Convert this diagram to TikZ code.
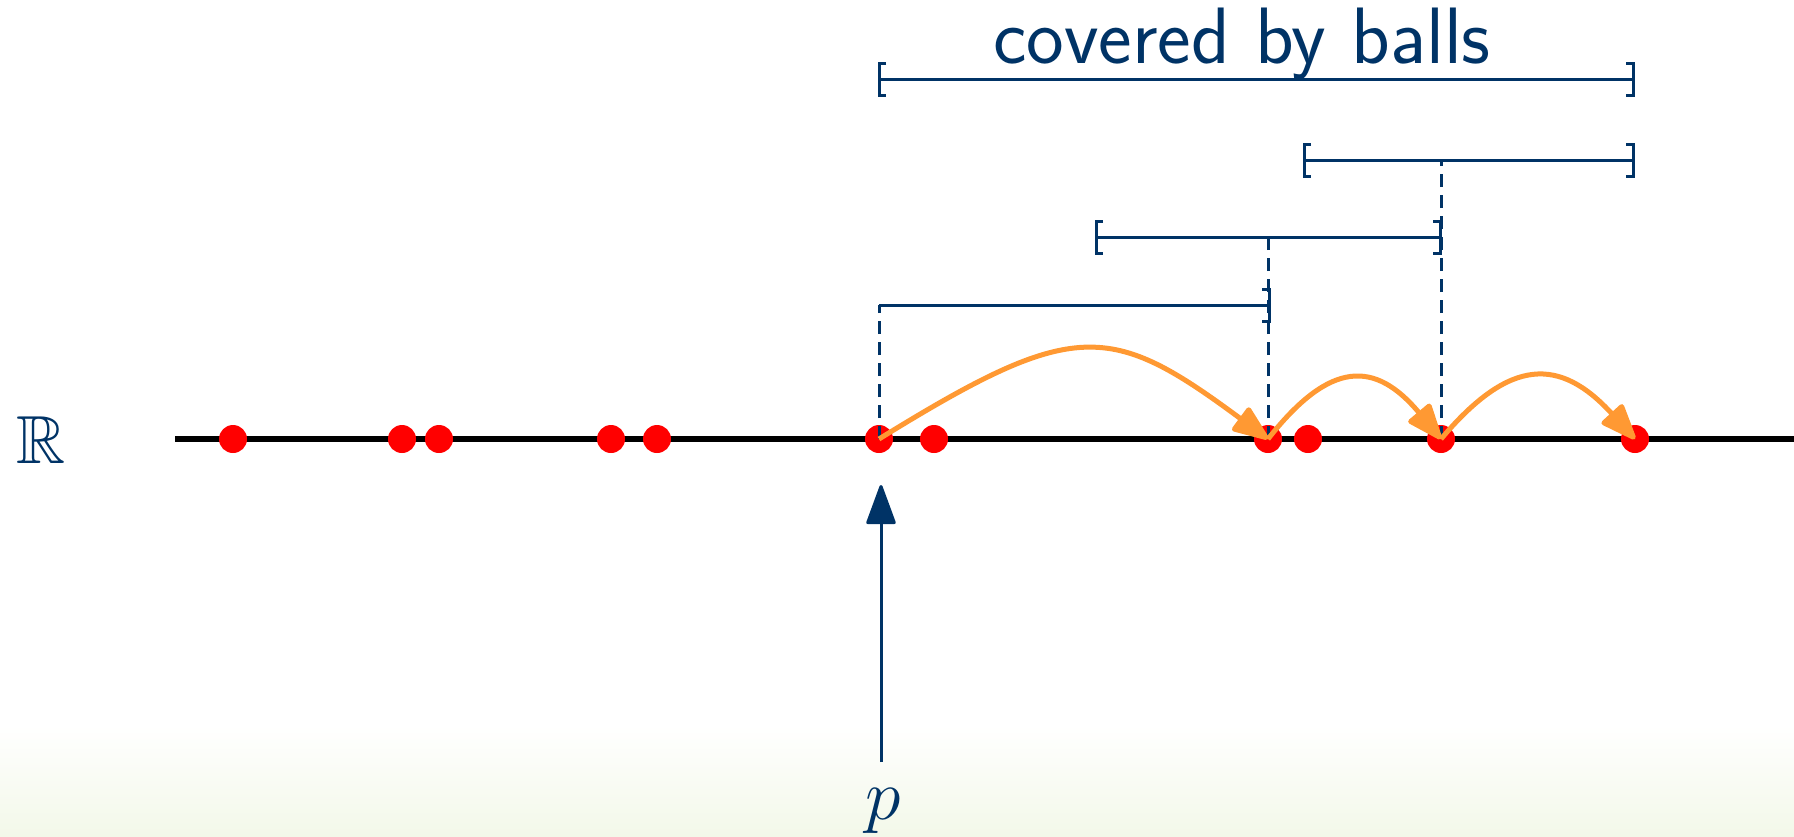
\RequirePackage{fix-cm}
\documentclass[tikz,border=0pt]{standalone}
\usepackage{amssymb}
\usetikzlibrary{arrows.meta}
\definecolor{dblue}{RGB}{0,51,102}
\definecolor{orng}{RGB}{255,153,51}
\definecolor{bgreen}{RGB}{243,248,233}
\begin{document}
\begin{tikzpicture}[x=1pt,y=-1pt,
  dot/.style={circle,fill=red,inner sep=0pt,minimum size=28pt},
  axisline/.style={line width=6pt,black},
  brk/.style={draw=dblue,line width=3pt},
  dsh/.style={draw=dblue,line width=3pt,dash pattern=on 13pt off 8pt},
  hop/.style={draw=orng,line width=5pt,-{Triangle[length=40pt,width=30pt,round]}},
  uparrow/.style={draw=dblue,line width=3pt,-{Triangle[length=42pt,width=30pt,round]}},
  lbl/.style={text=dblue,inner sep=0pt,anchor=base}
]
\useasboundingbox (0,0) rectangle (1794,836);
\shade[top color=white,bottom color=bgreen] (0,725) rectangle (1794,836);

% axis
\coordinate (axL) at (175,439);
\coordinate (axR) at (1794,439);
\draw[axisline] (axL) -- (axR);
\node[lbl,font=\fontsize{68}{80}\selectfont] (R) at (41,463) {$\mathbb{R}$};

% points
\foreach \x/\n in {233/d1,402/d2,439/d3,611/d4,657/d5,879/d6,934/d7,1268/d8,1308/d9,1441/d10,1635/d11}
  \node[dot] (\n) at (\x,439) {};

% bracket rows
\coordinate (r1a) at (879,79);   \coordinate (r1b) at (1633,79);
\coordinate (r2a) at (1304,160); \coordinate (r2b) at (1633,160);
\coordinate (r3a) at (1096,237); \coordinate (r3b) at (1440,237);
\coordinate (r4a) at (879,305);  \coordinate (r4b) at (1269,305);

% dashed verticals
\draw[dsh] (d6.center) -- (d6.center |- r4a);
\draw[dsh] (d8.center) -- (d8.center |- r3a);
\draw[dsh] (d10.center) -- (d10.center |- r2a);

% intervals
\draw[brk] (r1a) -- (r1b);
\draw[brk] (r1a) ++(7,-16) -- ++(-7,0) -- ++(0,32) -- ++(7,0);
\draw[brk] (r1b) ++(-7,-16) -- ++(7,0) -- ++(0,32) -- ++(-7,0);
\draw[brk] (r2a) -- (r2b);
\draw[brk] (r2a) ++(7,-16) -- ++(-7,0) -- ++(0,32) -- ++(7,0);
\draw[brk] (r2b) ++(-7,-16) -- ++(7,0) -- ++(0,32) -- ++(-7,0);
\draw[brk] (r3a) -- (r3b);
\draw[brk] (r3a) ++(7,-16) -- ++(-7,0) -- ++(0,32) -- ++(7,0);
\draw[brk] (r3b) ++(-7,-16) -- ++(7,0) -- ++(0,32) -- ++(-7,0);
\draw[brk] (r4a) -- (r4b);
\draw[brk] (r4b) ++(-7,-16) -- ++(7,0) -- ++(0,32) -- ++(-7,0);

\node[lbl,font=\sffamily\fontsize{80}{92}\selectfont] (cov) at (1242,63) {covered by balls};

% hops
\draw[hop] (d6.center) .. controls (1075,318) and (1110,322) .. (d8.center);
\draw[hop] (d8.center) .. controls (1330,360) and (1375,360) .. (d10.center);
\draw[hop] (d10.center) .. controls (1510,357) and (1560,357) .. (d11.center);

% p arrow
\node[lbl,font=\fontsize{72}{84}\selectfont] (p) at (883,819) {$p$};
\coordinate (pbot) at (881,762);
\coordinate (ptop) at (881,485);
\draw[uparrow] (pbot) -- (ptop);
\end{tikzpicture}
\end{document}
